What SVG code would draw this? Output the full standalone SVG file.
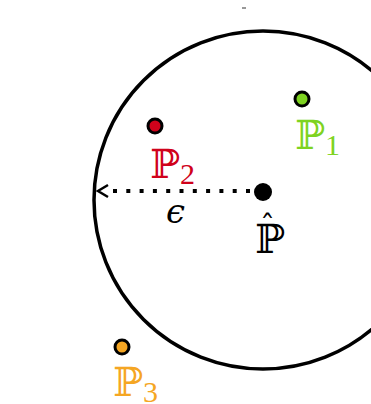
<svg xmlns="http://www.w3.org/2000/svg" width="371" height="404" viewBox="0 0 371 404">
<style>
.pt{stroke:#000;stroke-width:3}
.bb{font-family:"DejaVu Serif","DejaVu Sans",serif;font-size:40px}
.sub{font-family:"Liberation Serif",serif;font-size:30px}
</style>
<rect width="371" height="404" fill="#fff"/>
<line x1="242" y1="8" x2="246" y2="8" stroke="#333" stroke-width="1"/>
<g id="ball">
<circle cx="263" cy="200" r="169" fill="none" stroke="#000" stroke-width="3.5"/>
</g>
<g id="connectors">
<line x1="250" y1="191" x2="108" y2="191" stroke="#000" stroke-width="4" stroke-dasharray="4 9.3"/>
<polyline points="108,185 98,191 108,197" fill="none" stroke="#000" stroke-width="2.5"/>
<text x="166" y="223" font-family="DejaVu Serif,serif" font-style="italic" font-size="34" fill="#000">ϵ</text>
</g>
<g id="phat">
<circle cx="263" cy="192" r="9" fill="#000"/>
<text x="255" y="253" class="bb" fill="#000">ℙ</text>
<text x="260" y="236" font-family="DejaVu Serif,serif" font-size="30" fill="#000">ˆ</text>
</g>
<g id="p1">
<circle cx="302" cy="99" r="7" fill="#7ed321" class="pt"/>
<text x="295" y="149" class="bb" fill="#7ed321">ℙ<tspan class="sub" dy="6">1</tspan></text>
</g>
<g id="p2">
<circle cx="155" cy="126" r="7" fill="#d0021b" class="pt"/>
<text x="150" y="178" class="bb" fill="#d0021b">ℙ<tspan class="sub" dy="6">2</tspan></text>
</g>
<g id="p3">
<circle cx="122" cy="347" r="7" fill="#f5a623" class="pt"/>
<text x="113" y="396" class="bb" fill="#f5a623">ℙ<tspan class="sub" dy="6">3</tspan></text>
</g>
</svg>
